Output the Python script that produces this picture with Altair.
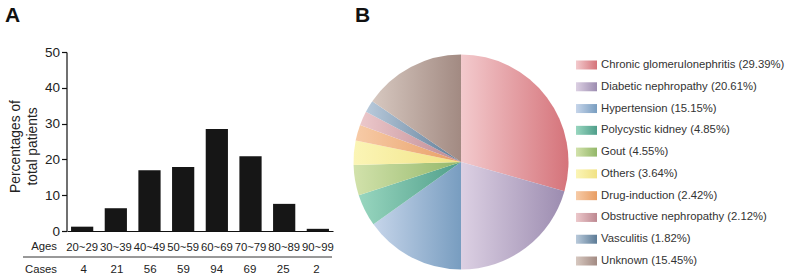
import altair as alt
import pandas as pd

# ---- Panel A data ----
ages = ["20~29", "30~39", "40~49", "50~59", "60~69", "70~79", "80~89", "90~99"]
pct = [1.21, 6.36, 16.97, 17.88, 28.48, 20.91, 7.58, 0.61]
cases = [4, 21, 56, 59, 94, 69, 25, 2]

# ---- Panel B data ----
causes = ["Chronic glomerulonephritis", "Diabetic nephropathy", "Hypertension",
          "Polycystic kidney", "Gout", "Others", "Drug-induction",
          "Obstructive nephropathy", "Vasculitis", "Unknown"]
shares = [29.39, 20.61, 15.15, 4.85, 4.55, 3.64, 2.42, 2.12, 1.82, 15.45]
light = ["#f3cacd", "#dcd0e3", "#c6d5ea", "#98d6bf", "#d2e2ab", "#fbf5b6",
         "#f7cba7", "#ecc8cb", "#b9cadb", "#d7c8c0"]
dark = ["#d5737a", "#9c8cb0", "#789dc0", "#4f9e8a", "#93b769", "#f1e284",
        "#e89d63", "#bd8891", "#5c7b96", "#a28a82"]

FONT = "Liberation Sans"

dfA = pd.DataFrame({"age": ages, "pct": pct, "cases": cases})
dfB = pd.DataFrame({"cause": causes, "share": shares, "idx": list(range(len(causes)))})
dfB["label"] = [f"{c} ({s:.2f}%)" for c, s in zip(causes, shares)]


def grad(lo, hi):
    return {"gradient": "linear", "x1": 0, "y1": 0, "x2": 1, "y2": 0,
            "stops": [{"offset": 0, "color": lo}, {"offset": 1, "color": hi}]}


fill_cond = {
    "condition": [{"test": f"datum.cause === '{c}'", "value": grad(l, d)}
                  for c, l, d in zip(causes, light, dark)],
    "value": "#cccccc",
}

xscale = alt.Scale(range=[67, 333], paddingInner=0.34, paddingOuter=0.12)
yscale = alt.Scale(domain=[0, 50], range=[231, 52], nice=False)

bars = alt.Chart(dfA).mark_bar(color="#161616").encode(
    x=alt.X("age:N", sort=ages, scale=xscale,
            axis=alt.Axis(title=None, offset=-48, ticks=False, tickSize=0,
                          labelPadding=16, labelBaseline="middle", labelAngle=0,
                          labelFontSize=11.3, labelColor="#222", labelFont=FONT,
                          domainColor="#111", domainWidth=1.2)),
    y=alt.Y("pct:Q", scale=yscale,
            axis=alt.Axis(values=[0, 10, 20, 30, 40, 50], offset=-66.5, grid=False,
                          tickSize=5, tickColor="#111", tickWidth=1.2,
                          domainColor="#111", domainWidth=1.2,
                          labelPadding=2, labelFontSize=13.5, labelColor="#222",
                          labelFont=FONT,
                          title=["Percentages of", "total patients"],
                          titleFont=FONT, titleFontSize=13.8, titleFontWeight="normal",
                          titleColor="#222", titleAngle=270, titleX=-51.5, titleY=146,
                          titleAlign="center", titleBaseline="middle",
                          titleLineHeight=17)),
)

case_text = alt.Chart(dfA).mark_text(font=FONT, fontSize=11.5, color="#222",
                                     baseline="middle").encode(
    x=alt.X("age:N", sort=ages, scale=xscale, axis=None),
    y=alt.value(270),
    text="cases:Q",
)

row_labels = alt.Chart(pd.DataFrame({"t": ["Ages", "Cases"], "yy": [247, 270]})).mark_text(
    font=FONT, fontSize=11.3, color="#222", align="right", baseline="middle").encode(
    x=alt.value(57), y=alt.Y("yy:Q", scale=alt.Scale(domain=[0, 279], range=[0, 279]), axis=None),
    text="t:N",
)

sep = alt.Chart(dfA.head(1)).mark_rule(color="#333", strokeWidth=1).encode(
    x=alt.value(23), x2=alt.value(332), y=alt.value(257))

panel_labels = alt.Chart(pd.DataFrame({"t": ["A", "B"], "xx": [5, 355]})).mark_text(
    font=FONT, fontSize=21, fontWeight="bold", color="#111", align="left",
    baseline="alphabetic").encode(
    x=alt.X("xx:Q", scale=alt.Scale(domain=[0, 788], range=[0, 788]), axis=None),
    y=alt.value(22),
    text="t:N",
)

pie = alt.Chart(dfB).mark_arc(stroke=None).encode(
    theta=alt.Theta("share:Q", stack=True, scale=alt.Scale(type="linear", domain=[0, 100], range=[0, 6.283185307])),
    order=alt.Order("idx:Q"),
    x=alt.value(461), y=alt.value(162), radius=alt.value(107.5),
    fill=fill_cond,
)

lyscale = alt.Scale(domain=causes, range=[54.1, 271.9], paddingInner=0.587, paddingOuter=0.2935)

swatch = alt.Chart(dfB).mark_rect().encode(
    x=alt.value(576), x2=alt.value(597),
    y=alt.Y("cause:N", sort=causes, scale=lyscale, axis=None),
    fill=fill_cond,
)

leg_text = alt.Chart(dfB).mark_text(font=FONT, fontSize=11.3, color="#333",
                                    align="left", baseline="middle").encode(
    x=alt.value(601),
    y=alt.Y("cause:N", sort=causes, scale=lyscale, axis=None),
    text="label:N",
)

chart = alt.layer(bars, case_text, row_labels, sep, panel_labels, pie, swatch, leg_text).resolve_scale(
    x="independent", y="independent", theta="independent", fill="independent"
).properties(
    width=788, height=279, padding=0, autosize=alt.AutoSizeParams(type="none"),
    background="white",
).configure_view(stroke=None)

chart.save("out.html", embed_options={"renderer": "svg", "actions": False})
